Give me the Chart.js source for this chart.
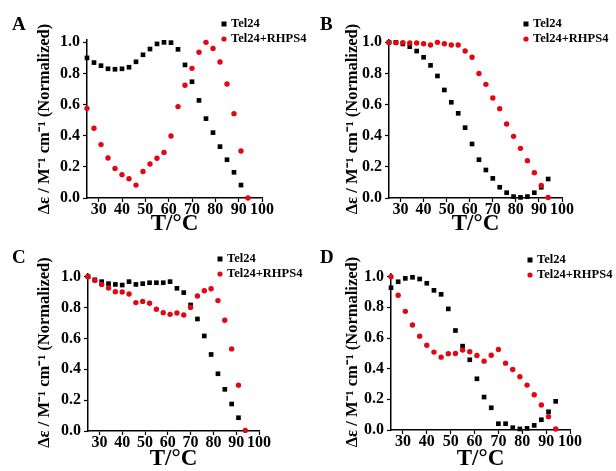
<!DOCTYPE html>
<html>
<head>
<meta charset="utf-8">
<script src="https://cdn.jsdelivr.net/npm/chart.js@4.4.1/dist/chart.umd.min.js"></script>
<style>
  html, body { margin: 0; padding: 0; background: #fff; }
  #wrap { position: relative; width: 616px; height: 471px; overflow: hidden; }
  .panel { position: absolute; }
  .panel canvas { position: absolute; left: 0; top: 0; }
  .letter { position: absolute; left: 12px; top: 10px; font: bold 19px "Liberation Serif", serif; color: #000; }
</style>
</head>
<body>
<div id="wrap">
  <div class="panel" style="left:0;top:0;width:308px;height:236px"><canvas id="chartA" width="308" height="236"></canvas><div class="letter" style="top:13px">A</div></div>
  <div class="panel" style="left:308px;top:0;width:308px;height:236px"><canvas id="chartB" width="308" height="236"></canvas><div class="letter" style="top:13px">B</div></div>
  <div class="panel" style="left:0;top:236px;width:308px;height:235px"><canvas id="chartC" width="308" height="235"></canvas><div class="letter">C</div></div>
  <div class="panel" style="left:308px;top:236px;width:308px;height:235px"><canvas id="chartD" width="308" height="235"></canvas><div class="letter">D</div></div>
</div>
<script>
// Temperatures (°C) for every panel
const temps = [25, 28, 31, 34, 37, 40, 43, 46, 49, 52, 55, 58, 61, 64, 67, 70, 73, 76, 79, 82, 85, 88, 91, 94];

// Panel A
const tel24A = [0.90, 0.87, 0.85, 0.83, 0.827, 0.83, 0.84, 0.875, 0.92, 0.957, 0.99, 1.0, 0.998, 0.955, 0.855, 0.747, 0.627, 0.51, 0.42, 0.33, 0.246, 0.165, 0.083, null];
const rhpsA = [0.576, 0.448, 0.343, 0.257, 0.19, 0.15, 0.124, 0.083, 0.17, 0.218, 0.255, 0.293, 0.398, 0.587, 0.724, 0.833, 0.936, 1.0, 0.961, 0.874, 0.732, 0.542, 0.302, 0.0];

// Panel B
const tel24B = [1.0, 1.0, 0.99, 0.972, 0.944, 0.904, 0.852, 0.784, 0.694, 0.615, 0.544, 0.452, 0.347, 0.246, 0.18, 0.126, 0.069, 0.034, 0.009, 0.004, 0.009, 0.034, 0.069, 0.122];
const rhpsB = [1.0, 0.998, 0.998, 0.996, 0.996, 0.991, 0.983, 1.0, 0.991, 0.983, 0.983, 0.944, 0.904, 0.8, 0.73, 0.642, 0.574, 0.475, 0.396, 0.319, 0.24, 0.163, 0.081, 0.004];

// Panel C
const tel24C = [1.0, 0.98, 0.968, 0.955, 0.95, 0.946, 0.968, 0.95, 0.955, 0.961, 0.961, 0.961, 0.968, 0.925, 0.897, 0.817, 0.726, 0.616, 0.496, 0.371, 0.27, 0.175, 0.086, null];
const rhpsC = [1.0, 0.976, 0.95, 0.927, 0.903, 0.901, 0.888, 0.832, 0.84, 0.828, 0.789, 0.767, 0.756, 0.765, 0.752, 0.8, 0.875, 0.909, 0.922, 0.845, 0.718, 0.532, 0.297, 0.004];

// Panel D
const tel24D = [0.928, 0.967, 0.989, 0.996, 0.985, 0.957, 0.911, 0.885, 0.79, 0.649, 0.547, 0.458, 0.334, 0.215, 0.145, 0.041, 0.041, 0.015, 0.007, 0.011, 0.03, 0.067, 0.119, 0.187];
const rhpsD = [1.0, 0.879, 0.774, 0.685, 0.612, 0.553, 0.508, 0.475, 0.497, 0.499, 0.521, 0.51, 0.486, 0.449, 0.488, 0.525, 0.436, 0.395, 0.347, 0.293, 0.23, 0.163, 0.087, 0.007];

// Tick labels
const xTicks = [30, 40, 50, 60, 70, 80, 90, 100];
const yTicks = [0, 0.2, 0.4, 0.6, 0.8, 1.0];
const seriesNames = ['Tel24', 'Tel24+RHPS4'];

const RED = '#e30613';
const FONT = '"Liberation Serif", "Times New Roman", serif';

// plot box of each panel inside its canvas
const panels = [
    { id: 'chartA', tel: tel24A, rhps: rhpsA, left: 87, right: 262, top: 40, bottom: 198, yMax: 1.015, legX: 224, legY: 24 },
    { id: 'chartB', tel: tel24B, rhps: rhpsB, left: 81, right: 254, top: 40, bottom: 198, yMax: 1.015, legX: 218, legY: 24 },
    { id: 'chartC', tel: tel24C, rhps: rhpsC, left: 88, right: 259, top: 38, bottom: 195, yMax: 1.0175, legX: 220, legY: 23 },
    { id: 'chartD', tel: tel24D, rhps: rhpsD, left: 83, right: 262, top: 38, bottom: 194, yMax: 1.0175, legX: 222, legY: 24 }
];

function toPoints(values) {
    const pts = [];
    temps.forEach((t, i) => {
        if (values[i] !== null) pts.push({ x: t, y: values[i] });
    });
    return pts;
}

// small legend in the upper right corner
const legendPlugin = {
    id: 'cornerLegend',
    afterDraw(chart, args, opts) {
        const ctx = chart.ctx;
        ctx.save();
        ctx.fillStyle = '#000';
        ctx.fillRect(opts.x - 2.5, opts.y - 2.5, 5, 5);
        ctx.fillStyle = RED;
        ctx.beginPath();
        ctx.arc(opts.x, opts.y + 15, 2.6, 0, Math.PI * 2);
        ctx.fill();
        ctx.fillStyle = '#000';
        ctx.font = 'bold 12.5px ' + FONT;
        ctx.textBaseline = 'middle';
        ctx.fillText(seriesNames[0], opts.x + 7, opts.y);
        ctx.fillText(seriesNames[1], opts.x + 7, opts.y + 15);
        ctx.restore();
    }
};

function makeChart(p) {
    const canvas = document.getElementById(p.id);
    const W = canvas.width, H = canvas.height;
    const padLeft = 26;
    return new Chart(canvas, {
        type: 'scatter',
        data: {
            datasets: [
                {
                    label: seriesNames[1],
                    data: toPoints(p.rhps),
                    pointStyle: 'circle',
                    pointRadius: 2.7,
                    backgroundColor: RED,
                    borderWidth: 0,
                    clip: false
                },
                {
                    label: seriesNames[0],
                    data: toPoints(p.tel),
                    pointStyle: 'rect',
                    pointRadius: 3.3,
                    backgroundColor: '#000',
                    borderWidth: 0,
                    clip: false
                }
            ]
        },
        options: {
            responsive: false,
            animation: false,
            devicePixelRatio: 1,
            layout: {
                padding: { left: padLeft, right: W - p.right, top: p.top, bottom: 0 }
            },
            plugins: {
                legend: { display: false },
                tooltip: { enabled: false },
                cornerLegend: { x: p.legX, y: p.legY }
            },
            scales: {
                x: {
                    type: 'linear',
                    min: 25,
                    max: 100,
                    afterBuildTicks: (scale) => { scale.ticks = xTicks.map(v => ({ value: v })); },
                    afterFit: (scale) => { scale.height = H - p.bottom; },
                    border: { color: '#000', width: 1.5 },
                    grid: { drawOnChartArea: false, drawTicks: true, tickLength: 4, color: '#000', tickWidth: 1.2 },
                    ticks: {
                        color: '#000',
                        padding: 0,
                        autoSkip: false,
                        maxRotation: 0,
                        font: { family: FONT, size: 16, weight: 'bold', lineHeight: 1 }
                    },
                    title: {
                        display: true,
                        text: 'T/°C',
                        color: '#000',
                        padding: { top: 0, bottom: 0 },
                        font: { family: FONT, size: 23, weight: 'bold', lineHeight: 1 }
                    }
                },
                y: {
                    type: 'linear',
                    min: 0,
                    max: p.yMax,
                    afterBuildTicks: (scale) => { scale.ticks = yTicks.map(v => ({ value: v })); },
                    afterFit: (scale) => { scale.width = p.left - padLeft; },
                    border: { color: '#000', width: 1.5 },
                    grid: { drawOnChartArea: false, drawTicks: true, tickLength: 4, color: '#000', tickWidth: 1.2 },
                    ticks: {
                        color: '#000',
                        padding: 3,
                        autoSkip: false,
                        callback: (v) => Number(v).toFixed(1),
                        font: { family: FONT, size: 16, weight: 'bold' }
                    },
                    title: {
                        display: true,
                        text: 'Δε / M⁻¹ cm⁻¹ (Normalized)',
                        color: '#000',
                        padding: { top: 9, bottom: 0 },
                        font: { family: FONT, size: 16.5, weight: 'bold', lineHeight: 1.2 }
                    }
                }
            }
        },
        plugins: [legendPlugin]
    });
}

panels.forEach(makeChart);
</script>
</body>
</html>
